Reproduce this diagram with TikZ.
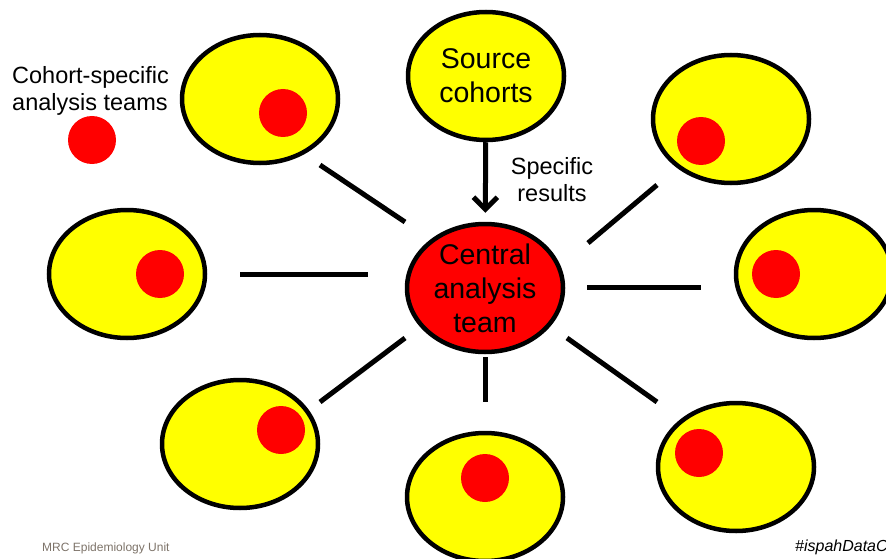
\documentclass[tikz,border=0pt]{standalone}
\usepackage{fontspec}
\setmainfont{Liberation Sans}
\usetikzlibrary{shapes.geometric,arrows.meta}
\definecolor{cyel}{RGB}{255,255,0}
\definecolor{cred}{RGB}{255,0,0}
\definecolor{footgray}{RGB}{125,115,105}
\begin{document}
\begin{tikzpicture}[x=1pt,y=-1pt,
  cohort/.style={ellipse, draw=black, line width=4.5pt, fill=cyel, minimum width=156pt, minimum height=128pt, inner sep=0pt},
  central/.style={cohort, fill=cred},
  team/.style={circle, fill=cred, minimum size=48pt, inner sep=0pt},
  link/.style={line width=5pt},
  big/.style={font=\fontsize{28.5}{34}\selectfont, align=center},
  lbl/.style={font=\fontsize{23.5}{27}\selectfont, inner sep=0pt}]
\useasboundingbox (0,0) rectangle (886,559);
\clip (0,0) rectangle (886,559);
% cohort ellipses
\node[cohort] (tl) at (260,99) {};
\node[cohort, big] (src) at (486,76) {Source\\cohorts};
\node[cohort] (tr) at (731,119) {};
\node[cohort] (ml) at (127,274) {};
\node[central, big] (ctr) at (485,288) {Central\\analysis\\team};
\node[cohort] (mr) at (814,274) {};
\node[cohort] (bl) at (240,444) {};
\node[cohort] (bc) at (485,497) {};
\node[cohort] (br) at (736,467) {};
% analysis teams
\node[team] (ttl) at (283,113) {};
\node[team] (ttr) at (701,141) {};
\node[team] (tml) at (160,274) {};
\node[team] (tmr) at (776,274) {};
\node[team] (tbl) at (281,430) {};
\node[team] (tbc) at (485,478) {};
\node[team] (tbr) at (699,453) {};
\node[team] (leg) at (92,140) {};
% labels
\node[lbl, anchor=west, align=left] (legtxt) at (12,90.5) {Cohort-specific\\analysis teams};
\node[lbl, align=center] (spec) at (552,180) {Specific\\results};
\node[anchor=base west, inner sep=0pt, font=\fontsize{12}{14}\selectfont, text=footgray] (foot) at (42,551) {MRC Epidemiology Unit};
\node[anchor=base west, inner sep=0pt, font=\fontsize{16}{18}\selectfont\itshape] (hash) at (795,551) {\#ispahDataC};
% arrow
\draw[link, -{Straight Barb[length=12pt, width=24pt]}, shorten >=9pt] (src) -- (ctr);
% connector ends
\coordinate (a1) at (320,165); \coordinate (a2) at (405,222);
\coordinate (b1) at (240,274); \coordinate (b2) at (368,274);
\coordinate (c1) at (320,402); \coordinate (c2) at (405,338);
\coordinate (d1) at (485,357); \coordinate (d2) at (485,402);
\coordinate (e1) at (567,338); \coordinate (e2) at (657,402);
\coordinate (f1) at (587,287); \coordinate (f2) at (701,287);
\coordinate (g1) at (588,243); \coordinate (g2) at (657,185);
\draw[link] (a1) -- (a2);
\draw[link] (b1) -- (b2);
\draw[link] (c1) -- (c2);
\draw[link] (d1) -- (d2);
\draw[link] (e1) -- (e2);
\draw[link] (f1) -- (f2);
\draw[link] (g1) -- (g2);
\end{tikzpicture}
\end{document}
